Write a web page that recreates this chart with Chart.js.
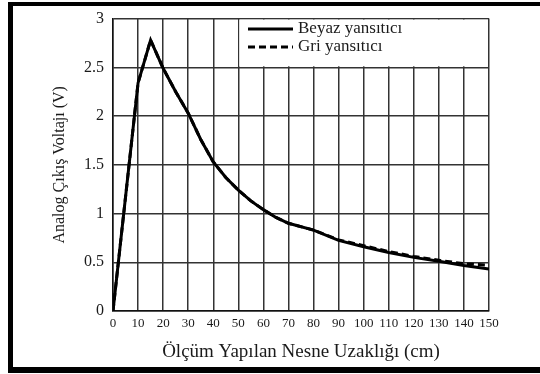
<!DOCTYPE html>
<html>
<head>
<meta charset="utf-8">
<script src="https://cdn.jsdelivr.net/npm/chart.js@4"></script>
<style>
    html, body { margin: 0; padding: 0; background: #fff; overflow: hidden; }
    #wrap { position: relative; width: 540px; height: 374px; }
    #frame {
        position: absolute; left: 8px; top: 2px; width: 540px; height: 371px;
        box-sizing: border-box;
        border-left: 5px solid #000; border-top: 4px solid #000; border-bottom: 6px solid #000;
    }
</style>
</head>
<body>
<div id="wrap">
    <canvas id="myChart" width="540" height="374"></canvas>
    <div id="frame"></div>
</div>
<script>
const distances = [0, 10, 15, 20, 25, 30, 35, 40, 45, 50, 55, 60, 65, 70, 80, 90, 100, 110, 120, 130, 140, 150];
const beyaz = [0, 2.34, 2.78, 2.49, 2.25, 2.03, 1.76, 1.53, 1.37, 1.24, 1.13, 1.04, 0.96, 0.90, 0.83, 0.725, 0.66, 0.60, 0.55, 0.51, 0.467, 0.43];
const gri = [0, 2.34, 2.78, 2.49, 2.25, 2.03, 1.76, 1.53, 1.37, 1.24, 1.13, 1.04, 0.96, 0.90, 0.83, 0.73, 0.67, 0.61, 0.56, 0.52, 0.485, 0.47];
const seriesLabels = ["Beyaz yansıtıcı", "Gri yansıtıcı"];

const serif = "'Liberation Serif', 'Times New Roman', serif";
const ink = "#1a1a1a";

// white box in the top right corner, then the legend drawn inside it
const legendBox = {
    id: "legendBox",
    beforeDatasetsDraw(chart) {
        const {ctx, scales: {x, y}} = chart;
        ctx.save();
        ctx.fillStyle = "#fff";
        const left = x.getPixelForValue(50) + 1;
        const right = x.getPixelForValue(150) - 1;
        const top = y.getPixelForValue(3) + 1;
        const bottom = y.getPixelForValue(2.5) - 1;
        ctx.fillRect(left, top, right - left, bottom - top);
        ctx.restore();
    },
    afterDatasetsDraw(chart) {
        const {ctx} = chart;
        const rows = [29, 47];
        ctx.save();
        chart.data.datasets.forEach((ds, i) => {
            ctx.strokeStyle = ds.borderColor;
            ctx.lineWidth = 3;
            ctx.setLineDash(ds.borderDash || []);
            ctx.beginPath();
            ctx.moveTo(248, rows[i]);
            ctx.lineTo(293, rows[i]);
            ctx.stroke();
            ctx.setLineDash([]);
            ctx.fillStyle = ink;
            ctx.font = "17px " + serif;
            ctx.textBaseline = "middle";
            ctx.fillText(ds.label, 298, rows[i]);
        });
        ctx.restore();
    }
};

Chart.register(legendBox);

const ctx = document.getElementById("myChart").getContext("2d");
new Chart(ctx, {
    type: "line",
    data: {
        datasets: [
            {
                label: seriesLabels[0],
                data: distances.map((d, i) => ({x: d, y: beyaz[i]})),
                borderColor: "#000",
                borderWidth: 3,
                pointRadius: 0,
                tension: 0,
                order: 0,
            },
            {
                label: seriesLabels[1],
                data: distances.map((d, i) => ({x: d, y: gri[i]})),
                borderColor: "#000",
                borderWidth: 3,
                borderDash: [7, 4],
                pointRadius: 0,
                tension: 0,
                order: 1,
            }
        ]
    },
    options: {
        responsive: false,
        animation: false,
        devicePixelRatio: 1,
        layout: {
            padding: {left: 0, right: 51, top: 14, bottom: 0}
        },
        plugins: {
            legend: {display: false},
            tooltip: {enabled: false}
        },
        scales: {
            x: {
                type: "linear",
                min: 0,
                max: 150,
                afterFit: scale => { scale.height = 63; },
                ticks: {
                    stepSize: 10,
                    padding: 5,
                    color: ink,
                    font: {family: serif, size: 13},
                    maxRotation: 0,
                    autoSkip: false
                },
                grid: {color: "#333", lineWidth: 1.5, drawTicks: false},
                border: {color: "#111", width: 1.5},
                title: {
                    display: true,
                    text: "Ölçüm Yapılan Nesne Uzaklığı (cm)",
                    color: ink,
                    font: {family: serif, size: 19},
                    padding: {top: 0, bottom: 11}
                }
            },
            y: {
                min: 0,
                max: 3,
                afterFit: scale => { scale.width = 113; },
                ticks: {
                    stepSize: 0.5,
                    padding: 9,
                    color: ink,
                    font: {family: serif, size: 16},
                    callback: v => String(v)
                },
                grid: {color: "#333", lineWidth: 1.5, drawTicks: false},
                border: {color: "#111", width: 1.5},
                title: {
                    display: true,
                    text: "Analog Çıkış Voltajı (V)",
                    color: ink,
                    font: {family: serif, size: 16},
                    padding: {top: 50, bottom: 0}
                }
            }
        }
    }
});
</script>
</body>
</html>
